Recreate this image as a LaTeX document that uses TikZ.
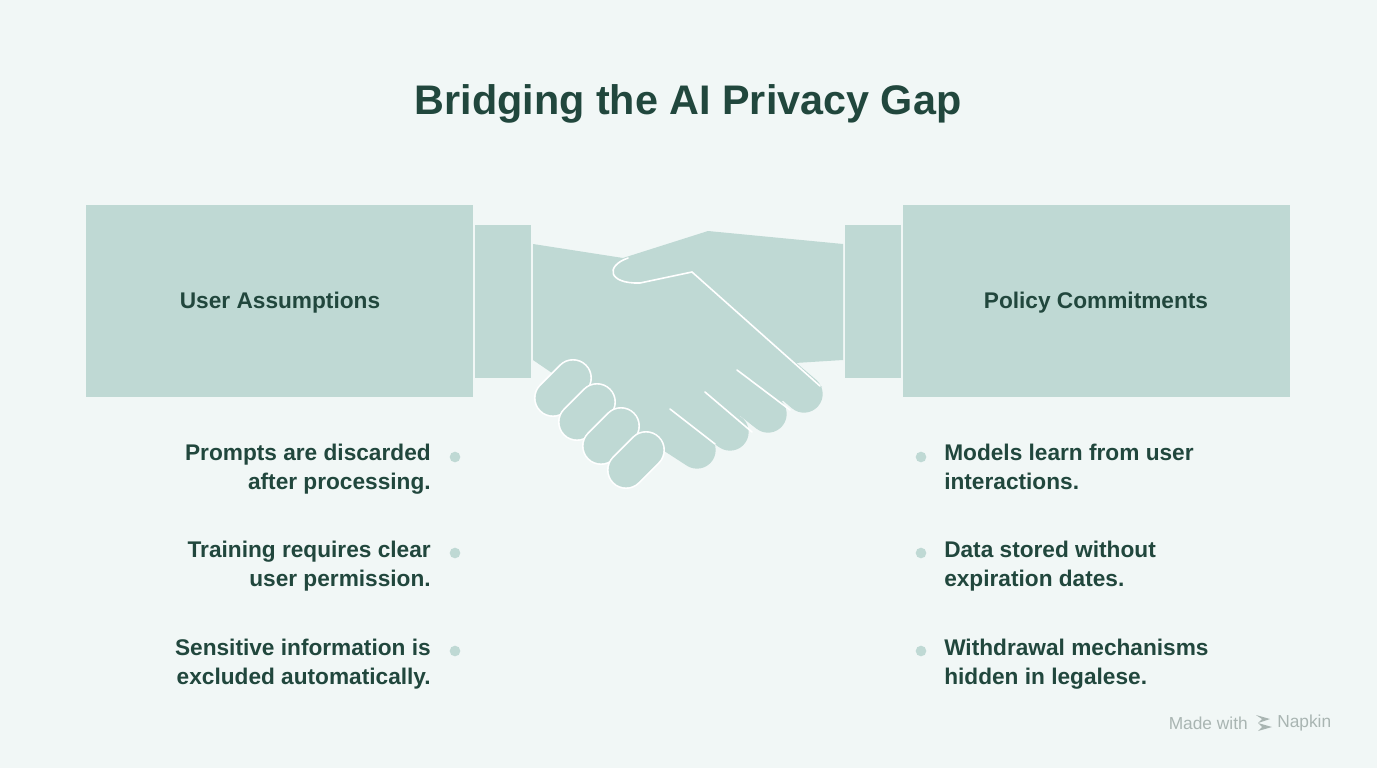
\documentclass[tikz,border=0pt]{standalone}
\usepackage{fontspec}
\setmainfont{Liberation Sans}
\definecolor{bg}{HTML}{F1F7F6}
\definecolor{hand}{HTML}{BFD9D4}
\definecolor{ink}{HTML}{21473D}
\definecolor{gray}{HTML}{A9B5B2}
\begin{document}
\begin{tikzpicture}[x=0.75pt,y=-0.75pt,
  txt/.style={font=\bfseries\fontsize{17}{21.5}\selectfont, text=ink, inner sep=0pt},
  dot/.style={circle, fill=hand, minimum size=8pt, inner sep=0pt},
  box/.style={fill=hand},
  lf/.style={draw=hand, line width=28pt, line cap=round},
  cf/.style={draw=white, line width=28.5pt, line cap=round},
  cfi/.style={draw=hand, line width=26pt, line cap=round},
  wl/.style={draw=white, line width=1.2pt, line cap=round}]
\fill[bg] (0,0) rectangle (1377,768);
\useasboundingbox (0,0) rectangle (1377,768);
\node[font=\bfseries\fontsize{31}{36}\selectfont, text=ink] (title) at (688,104) {Bridging the AI Privacy Gap};
% boxes
\fill[box] (86,205) rectangle (473,397);
\fill[box] (475,225) rectangle (531,378);
\fill[box] (845,225) rectangle (901,378);
\fill[box] (903,205) rectangle (1290,397);
\node[txt] (ua) at (280,303) {User Assumptions};
\node[txt] (pc) at (1096,303) {Policy Commitments};
% long fingers
\draw[lf] (700,305) -- (804,394);
\draw[lf] (680,345) -- (768,414);
\draw[lf] (650,378) -- (730,432);
\draw[lf] (620,400) -- (697,450);
% body
\fill[hand] (533,244) -- (623,258) -- (708,231) -- (843,244) -- (843,360) -- (795,363) -- (822,387) -- (700,430) -- (600,430) -- (555,375) -- (533,360) -- cycle;
% white lines
\draw[wl] (628,258) .. controls (605,266) and (608,284) .. (640,283) -- (692,272) -- (820,386);
\draw[wl] (737,370) -- (790,410);
\draw[wl] (705,392) -- (752,432);
\draw[wl] (670,409) -- (715,444);
% curled fingers
\draw[cf] (553,398) -- (573,378); \draw[cfi] (553,398) -- (573,378);
\draw[cf] (577,422) -- (597,402); \draw[cfi] (577,422) -- (597,402);
\draw[cf] (601,446) -- (621,426); \draw[cfi] (601,446) -- (621,426);
\draw[cf] (626,470) -- (646,450); \draw[cfi] (626,470) -- (646,450);
% left bullets
\node[txt, anchor=north east, align=right] (l1) at (431,444) {Prompts are discarded\\after processing.};
\node[txt, anchor=north east, align=right] (l2) at (431,541) {Training requires clear\\user permission.};
\node[txt, anchor=north east, align=right] (l3) at (431,639) {Sensitive information is\\excluded automatically.};
\node[dot] (d1) at (455,457) {};
\node[dot] (d2) at (455,553) {};
\node[dot] (d3) at (455,651) {};
% right bullets
\node[txt, anchor=north west, align=left] (r1) at (944,444) {Models learn from user\\interactions.};
\node[txt, anchor=north west, align=left] (r2) at (944,541) {Data stored without\\expiration dates.};
\node[txt, anchor=north west, align=left] (r3) at (944,639) {Withdrawal mechanisms\\hidden in legalese.};
\node[dot] (e1) at (921,457) {};
\node[dot] (e2) at (921,553) {};
\node[dot] (e3) at (921,651) {};
% footer
\node[font=\fontsize{13}{16}\selectfont, text=gray, anchor=east, inner sep=0pt] (mw) at (1248,723) {Made with};
\fill[gray] (1256,715) -- (1270,719) -- (1258,723) -- (1272,727) -- (1258,731) -- (1262,727) -- (1258,723) -- (1262,719) -- cycle;
\node[font=\fontsize{13}{16}\selectfont, text=gray, anchor=west, inner sep=0pt] (np) at (1277,723) {Napkin};
\end{tikzpicture}
\end{document}
